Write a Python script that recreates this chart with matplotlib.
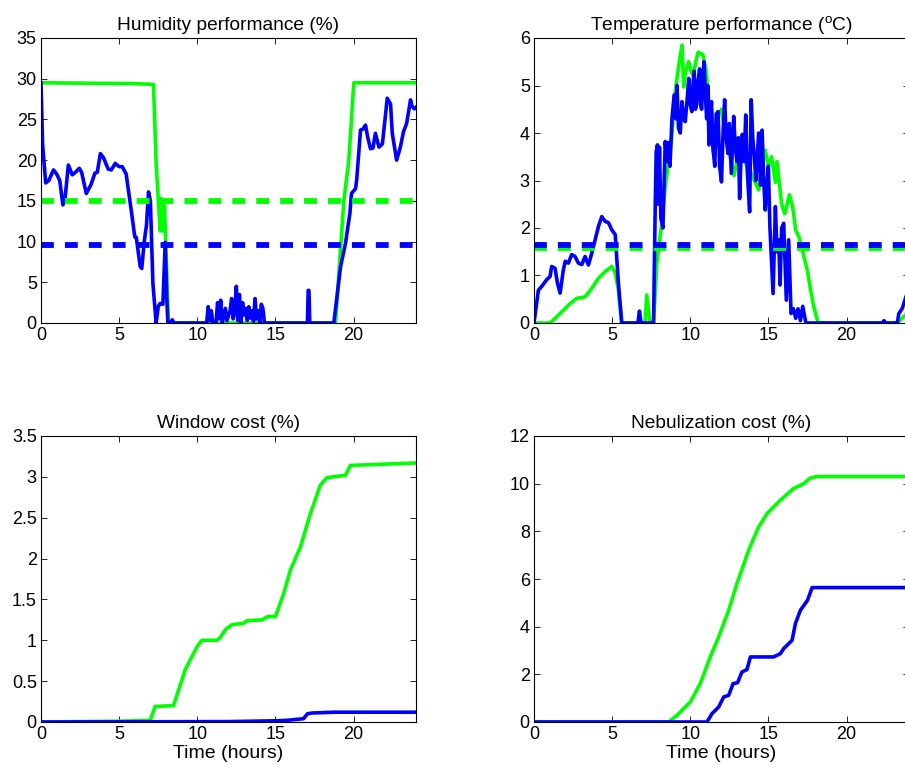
import matplotlib
matplotlib.use("Agg")
import matplotlib.pyplot as plt

plt.rcParams['font.family'] = ['Liberation Sans', 'DejaVu Sans']
plt.rcParams['mathtext.fontset'] = 'custom'
plt.rcParams['mathtext.rm'] = 'Liberation Sans'
plt.rcParams['mathtext.it'] = 'Liberation Sans:italic'

GREEN = '#00ff00'
BLUE = '#0000ff'

# ---------------- Humidity performance (%) ----------------
hum_green_t = [0, 6.0, 7.2, 7.37, 7.63, 7.7, 7.8, 7.9, 8.16, 18.85, 19.38, 19.7, 20.02, 24]
hum_green_v = [29.5, 29.4, 29.3, 19.5, 11.3, 15.3, 11.3, 14.4, 0, 0, 15.0, 20.0, 29.5, 29.5]
hum_green_ref = 15.0

hum_blue_t = [0, 0.1, 0.3, 0.5, 0.8, 1.0, 1.2, 1.4, 1.55, 1.75, 2.0, 2.2, 2.45, 2.6, 2.9,
              3.2, 3.45, 3.6, 3.8, 4.0, 4.3, 4.5, 4.75, 5.0, 5.2, 5.45, 5.8, 6.0, 6.1,
              6.35, 6.45, 6.6, 6.75, 6.88, 7.0, 7.16, 7.37, 7.5, 7.62, 7.8, 7.95, 8.05,
              8.12, 8.3, 8.4, 8.5,
              10.6, 10.7, 10.8, 10.9, 11.0, 11.2, 11.3, 11.4, 11.5, 11.6, 11.8, 11.9,
              12.1, 12.2, 12.3, 12.4, 12.5, 12.6, 12.7, 12.8, 12.9, 13.0, 13.1, 13.2,
              13.3, 13.4, 13.5, 13.6, 13.7, 13.8, 13.9, 14.0, 14.1, 14.2, 14.3,
              17.05, 17.1, 17.15, 17.2, 18.74, 19.17, 19.49, 19.77, 19.87, 20.13, 20.2,
              20.45, 20.6, 20.77, 20.9, 21.09, 21.25, 21.4, 21.63, 21.85, 22.16, 22.37,
              22.48, 22.76, 23.0, 23.2, 23.4, 23.65, 23.75, 23.9, 24]
hum_blue_v = [29.5, 22.0, 17.2, 17.5, 18.8, 18.3, 17.5, 14.5, 15.5, 19.4, 18.2, 18.5, 19.0, 18.5, 15.9,
              17.0, 18.4, 18.5, 20.8, 20.3, 18.9, 18.8, 19.6, 19.2, 19.2, 18.3, 13.5, 10.6, 10.5,
              6.9, 6.7, 9.9, 12.0, 16.1, 15.0, 4.9, 0.0, 2.0, 2.4, 2.3, 9.9, 3.0,
              0.0, 0.0, 0.4, 0.0,
              0.0, 2.0, 0.3, 1.5, 0.0, 0.0, 2.5, 0.5, 2.8, 0.0, 1.8, 0.3,
              1.5, 3.0, 0.5, 1.5, 4.5, 0.3, 3.5, 0.0, 2.5, 1.0, 1.8, 0.3,
              2.0, 0.6, 1.5, 0.2, 3.0, 0.5, 1.5, 0.0, 2.3, 1.8, 0.0,
              0.0, 4.0, 4.0, 0.0, 0.0, 6.9, 9.8, 13.5, 15.9, 16.5, 17.5,
              23.7, 23.8, 24.3, 22.9, 21.4, 21.5, 23.3, 21.6, 22.0, 27.6, 26.9,
              23.3, 20.0, 21.6, 23.5, 24.5, 27.4, 26.6, 26.3, 26.5]
hum_blue_ref = 9.6

# ---------------- Temperature performance (oC) ----------------
temp_green_t = [0, 1.03, 1.67, 2.31, 2.74, 3.27, 3.7, 4.12, 4.55, 4.98, 5.2, 5.4, 5.6,
                7.1, 7.22, 7.4, 7.65, 7.86, 8.07, 8.18, 8.4, 8.6, 8.8, 9.0, 9.15, 9.3,
                9.47, 9.58, 9.7, 9.9, 10.05, 10.2, 10.35, 10.5, 10.8, 11.0, 11.17, 11.47,
                11.7, 12.0, 12.3, 12.55, 12.8, 13.1, 13.4, 13.6, 13.85, 14.1, 14.38,
                14.6, 14.8, 15.0, 15.2, 15.45, 15.55, 15.85, 16.05, 16.35, 16.55, 16.75,
                16.97, 17.2, 17.5, 17.7, 17.9, 18.1, 18.2, 23.3, 23.46, 23.77, 24]
temp_green_v = [0, 0, 0.2, 0.41, 0.52, 0.55, 0.73, 0.94, 1.08, 1.19, 1.05, 0.7, 0,
                0, 0.59, 0.05, 0, 1.26, 1.82, 2.1, 2.87, 3.36, 3.85, 4.76, 5.15, 5.5,
                5.85, 4.97, 5.3, 5.5, 5.3, 5.2, 5.5, 5.7, 5.65, 5.35, 4.76, 3.6,
                4.3, 4.5, 3.85, 3.5, 3.1, 3.6, 3.65, 3.3, 3.2, 3.0, 2.8,
                3.3, 3.64, 3.3, 3.5, 2.96, 3.4, 2.5, 2.3, 2.7, 2.45, 1.96,
                1.8, 1.5, 1.1, 0.7, 0.35, 0.1, 0, 0, 0.07, 0.17, 0.2]
temp_green_ref = 1.57

temp_blue_t = [0, 0.28, 0.49, 0.81, 1.03, 1.13, 1.35, 1.5, 1.67, 1.88, 2.0, 2.2, 2.41, 2.63,
               2.84, 3.06, 3.27, 3.48, 3.7, 3.91, 4.13, 4.34, 4.55, 4.77, 4.98, 5.2, 5.4,
               5.62, 6.65, 6.75, 6.85,
               7.65, 7.76, 7.82, 7.9, 7.97, 8.03, 8.12, 8.25, 8.4, 8.5, 8.6, 8.7, 8.83,
               8.97, 9.07, 9.15, 9.25, 9.36, 9.47, 9.58, 9.68, 9.8, 9.9, 10.0, 10.1,
               10.17, 10.25, 10.33, 10.4, 10.5, 10.6, 10.66, 10.73, 10.8, 10.88, 10.97,
               11.05, 11.12, 11.2, 11.28, 11.36, 11.45, 11.57, 11.66, 11.78, 11.88, 12.0,
               12.1, 12.2, 12.3, 12.42, 12.5, 12.63, 12.7, 12.78, 12.88, 12.99, 13.08,
               13.16, 13.25, 13.33, 13.45, 13.55, 13.65, 13.8, 13.9, 14.0, 14.1, 14.2,
               14.38, 14.5, 14.6, 14.7, 14.8, 14.9, 15.0, 15.1, 15.3, 15.45, 15.55, 15.66,
               15.75, 15.85, 15.98, 16.15, 16.3, 16.45, 16.6, 16.75, 16.9, 17.05, 17.2,
               17.4, 22.3, 22.4, 22.5, 23.25, 23.35, 23.56, 23.8, 24]
temp_blue_v = [0, 0.69, 0.77, 0.91, 0.98, 1.19, 1.15, 0.84, 0.63, 1.12, 1.3, 1.26, 1.44, 1.4,
               1.26, 1.23, 1.4, 1.22, 1.47, 1.75, 2.04, 2.24, 2.14, 2.11, 1.96, 1.86, 0.84,
               0, 0, 0.25, 0,
               0, 2.5, 3.6, 3.75, 2.5, 3.7, 2.2, 2.0, 3.82, 3.4, 3.8, 3.3, 4.3,
               4.8, 4.3, 5.0, 4.1, 4.0, 4.66, 4.3, 4.24, 4.7, 5.15, 4.6, 4.45,
               5.0, 5.3, 4.5, 4.6, 5.1, 5.35, 4.6, 4.5, 5.1, 5.5, 4.8,
               4.3, 5.0, 3.75, 4.3, 4.66, 3.7, 3.3, 4.4, 4.45, 3.3, 2.97,
               4.0, 4.7, 3.9, 3.57, 4.2, 3.15, 3.7, 4.35, 3.7, 3.4, 3.9,
               2.62, 3.5, 3.97, 3.4, 4.38, 3.2, 2.34, 4.7, 3.9, 3.5, 3.0,
               4.0, 2.9, 4.06, 3.0, 2.38, 2.9, 3.3, 2.0, 0.62, 2.45, 1.5, 1.75,
               0.8, 2.0, 2.1, 0.48, 1.75, 0.2, 0.3, 0.1, 0.3, 0.05, 0.35,
               0, 0, 0.05, 0, 0, 0.2, 0.3, 0.55, 0.6]
temp_blue_ref = 1.65

# ---------------- Window cost (%) ----------------
win_green_t = [0, 5.0, 6.99, 7.3, 8.48, 9.23, 9.98, 10.3, 11.26, 11.5, 11.8, 12.22, 12.97,
               13.2, 14.15, 14.5, 15.0, 15.53, 15.96, 16.6, 17.24, 17.88, 18.3, 19.49,
               19.8, 24]
win_green_v = [0, 0.01, 0.02, 0.19, 0.2, 0.64, 0.92, 1.0, 1.0, 1.04, 1.13, 1.19, 1.21,
               1.24, 1.25, 1.29, 1.29, 1.57, 1.86, 2.14, 2.55, 2.9, 2.99, 3.02,
               3.14, 3.17]
win_blue_t = [0, 12.0, 15.0, 15.7, 16.8, 17.05, 17.35, 18.74, 24]
win_blue_v = [0, 0.005, 0.015, 0.02, 0.04, 0.1, 0.11, 0.12, 0.12]

# ---------------- Nebulization cost (%) ----------------
neb_green_t = [0, 8.61, 9.15, 10.0, 10.64, 11.28, 11.82, 12.46, 12.99, 13.74, 14.38, 14.92,
               15.77, 16.62, 17.26, 17.69, 18.12, 24]
neb_green_v = [0, 0, 0.28, 0.84, 1.61, 2.73, 3.57, 4.69, 5.81, 7.21, 8.19, 8.75,
               9.31, 9.8, 10.0, 10.24, 10.3, 10.3]
neb_blue_t = [0, 11.07, 11.39, 11.82, 12.14, 12.46, 12.74, 13.03, 13.31, 13.63, 13.85, 15.34,
              15.77, 15.98, 16.52, 16.73, 17.05, 17.5, 17.8, 24]
neb_blue_v = [0, 0, 0.35, 0.63, 1.05, 1.12, 1.61, 1.65, 2.1, 2.2, 2.73, 2.73,
              2.87, 3.08, 3.43, 4.13, 4.69, 5.1, 5.64, 5.64]

titles = ['Humidity performance (%)', r'Temperature performance ($^{\mathrm{o}}$C)',
          'Window cost (%)', 'Nebulization cost (%)']
x_ticks = [0, 5, 10, 15, 20]

W, H = 905, 778
fig = plt.figure(figsize=(W / 100, H / 100), dpi=100)

def px_axes(x0, x1, ytop, ybot):
    return fig.add_axes([x0 / W, 1 - ybot / H, (x1 - x0) / W, (ybot - ytop) / H])

ax1 = px_axes(41, 416, 38, 323)
ax2 = px_axes(534, 909, 38, 323)
ax3 = px_axes(41, 416, 436, 722)
ax4 = px_axes(534, 909, 436, 722)

LW = 2.6
DLW = 4.2
dash = (2.2, 1.9)

ax1.plot(hum_green_t, hum_green_v, color=GREEN, lw=LW)
ax1.plot(hum_blue_t, hum_blue_v, color=BLUE, lw=LW)
ax1.plot([0, 24], [hum_green_ref] * 2, color=GREEN, lw=DLW, dashes=dash, dash_capstyle='butt')
ax1.plot([0, 24], [hum_blue_ref] * 2, color=BLUE, lw=DLW, dashes=dash, dash_capstyle='butt')
ax1.set_ylim(0, 35)
ax1.set_yticks([0, 5, 10, 15, 20, 25, 30, 35])

ax2.plot(temp_green_t, temp_green_v, color=GREEN, lw=LW)
ax2.plot(temp_blue_t, temp_blue_v, color=BLUE, lw=LW)
ax2.plot([0, 24], [temp_green_ref] * 2, color=GREEN, lw=DLW, dashes=dash, dash_capstyle='butt')
ax2.plot([0, 24], [temp_blue_ref] * 2, color=BLUE, lw=DLW, dashes=dash, dash_capstyle='butt')
ax2.set_ylim(0, 6)
ax2.set_yticks([0, 1, 2, 3, 4, 5, 6])

ax3.plot(win_green_t, win_green_v, color=GREEN, lw=LW)
ax3.plot(win_blue_t, win_blue_v, color=BLUE, lw=LW)
ax3.set_ylim(0, 3.5)
ax3.set_yticks([0, 0.5, 1, 1.5, 2, 2.5, 3, 3.5])
ax3.set_yticklabels(['0', '0.5', '1', '1.5', '2', '2.5', '3', '3.5'])

ax4.plot(neb_green_t, neb_green_v, color=GREEN, lw=LW)
ax4.plot(neb_blue_t, neb_blue_v, color=BLUE, lw=LW)
ax4.set_ylim(0, 12)
ax4.set_yticks([0, 2, 4, 6, 8, 10, 12])

for ax, title in zip([ax1, ax2, ax3, ax4], titles):
    ax.set_xlim(0, 24)
    ax.set_xticks(x_ticks)
    ax.set_title(title, fontsize=13.8, pad=6)
    ax.tick_params(direction='in', length=4, width=0.6, top=True, right=True,
                   labelsize=13, pad=3)
    for s in ax.spines.values():
        s.set_linewidth(0.8)

ax3.set_xlabel('Time (hours)', fontsize=14, labelpad=1)
ax4.set_xlabel('Time (hours)', fontsize=14, labelpad=1)

fig.savefig('out.png', dpi=100)
